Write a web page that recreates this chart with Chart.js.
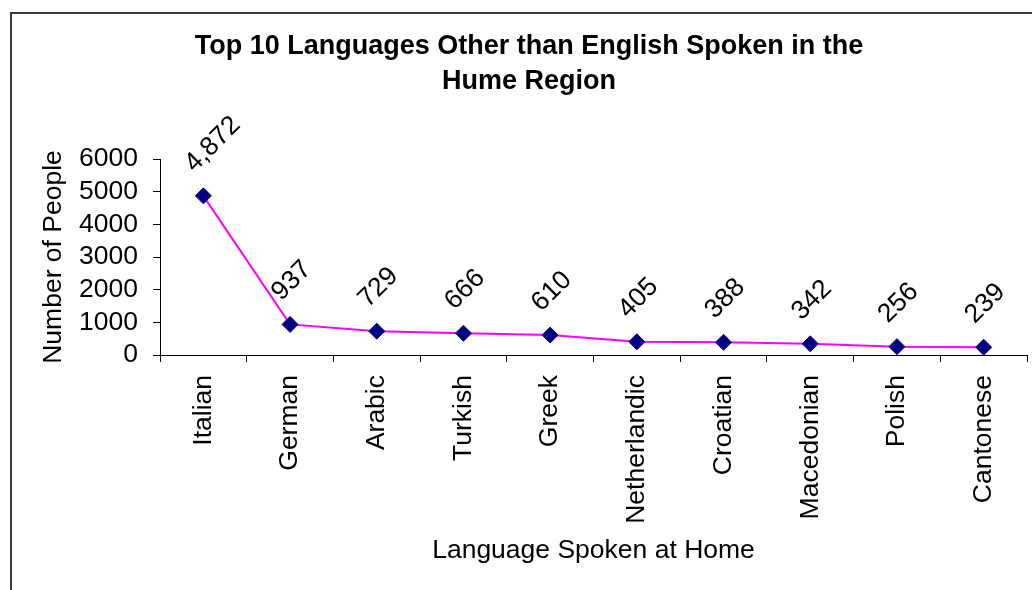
<!DOCTYPE html>
<html>
<head>
<meta charset="utf-8">
<script src="https://cdn.jsdelivr.net/npm/chart.js@4.4.0/dist/chart.umd.min.js"></script>
<style>
  html, body { margin: 0; padding: 0; background: #fff; }
  #wrap { position: relative; width: 1032px; height: 590px; overflow: hidden; }
  #frame { position: absolute; left: 10px; top: 12px; width: 1040px; height: 600px;
           border-left: 2px solid #3a3a3a; border-top: 2px solid #3a3a3a; box-sizing: border-box; }
  canvas { position: absolute; left: 0; top: 0; }
</style>
</head>
<body>
<div id="wrap">
  <div id="frame"></div>
  <canvas id="c" width="1032" height="590"></canvas>
</div>
<script>
const categories = ["Italian", "German", "Arabic", "Turkish", "Greek", "Netherlandic", "Croatian", "Macedonian", "Polish", "Cantonese"];
const peopleCounts = [4872, 937, 729, 666, 610, 405, 388, 342, 256, 239];
const yTickValues = [0, 1000, 2000, 3000, 4000, 5000, 6000];
const titleLines = ["Top 10 Languages Other than English Spoken in the", "Hume Region"];
const xAxisTitle = "Language Spoken at Home";
const yAxisTitle = "Number of People";

const FONT = "'Liberation Sans', Arial, sans-serif";
const FS = 26.5;

const textPlugin = {
  id: 'textPlugin',
  afterDraw(chart) {
    const ctx = chart.ctx;
    const area = chart.chartArea;
    const meta = chart.getDatasetMeta(0);
    ctx.save();
    ctx.fillStyle = '#000';
    // Title
    ctx.font = "bold 27px " + FONT;
    ctx.textAlign = 'center';
    ctx.textBaseline = 'middle';
    titleLines.forEach((t, i) => ctx.fillText(t, 529, 47 + i * 35));
    // X axis title
    ctx.font = FS + "px " + FONT;
    ctx.fillText(xAxisTitle, (area.left + area.right) / 2, 551);
    // Y axis title
    ctx.save();
    ctx.translate(54, (area.top + area.bottom) / 2);
    ctx.rotate(-Math.PI / 2);
    ctx.fillText(yAxisTitle, 0, 0);
    ctx.restore();
    // Data labels
    ctx.font = FS + "px " + FONT;
    ctx.textAlign = 'left';
    ctx.textBaseline = 'middle';
    meta.data.forEach((pt, i) => {
      ctx.save();
      ctx.translate(pt.x - 14, pt.y - 28);
      ctx.rotate(-Math.PI / 4);
      ctx.fillText(peopleCounts[i].toLocaleString('en-US'), 0, 0);
      ctx.restore();
    });
    ctx.restore();
  }
};

new Chart(document.getElementById('c'), {
  type: 'line',
  data: {
    labels: categories,
    datasets: [{
      data: peopleCounts,
      borderColor: '#FF00FF',
      borderWidth: 2,
      pointStyle: 'rectRot',
      pointRadius: 8,
      pointHoverRadius: 8,
      pointBackgroundColor: '#000080',
      pointBorderColor: '#000080',
      pointBorderWidth: 1,
      tension: 0
    }]
  },
  options: {
    responsive: false,
    animation: false,
    devicePixelRatio: 1,
    layout: { autoPadding: false, padding: { top: 159, right: 5, left: 0, bottom: 0 } },
    plugins: { legend: { display: false }, tooltip: { enabled: false }, title: { display: false } },
    scales: {
      x: {
        type: 'category',
        offset: true,
        afterFit(scale) { scale.height = 235; },
        grid: { offset: true, drawOnChartArea: false, drawTicks: true, tickLength: 7, color: '#000', lineWidth: 1 },
        border: { display: true, color: '#000', width: 1 },
        ticks: { color: '#000', font: { size: FS, family: FONT }, minRotation: 90, maxRotation: 90, padding: 13, autoSkip: false }
      },
      y: {
        min: 0, max: 6000,
        afterFit(scale) { scale.width = 160; },
        afterBuildTicks(scale) { scale.ticks = yTickValues.map(v => ({ value: v })); },
        grid: { drawOnChartArea: false, drawTicks: true, tickLength: 7, color: '#000', lineWidth: 1 },
        border: { display: true, color: '#000', width: 1 },
        ticks: { color: '#000', font: { size: FS, family: FONT }, padding: 15, autoSkip: false,
                 callback: (v) => String(v) }
      }
    }
  },
  plugins: [textPlugin]
});
</script>
</body>
</html>
